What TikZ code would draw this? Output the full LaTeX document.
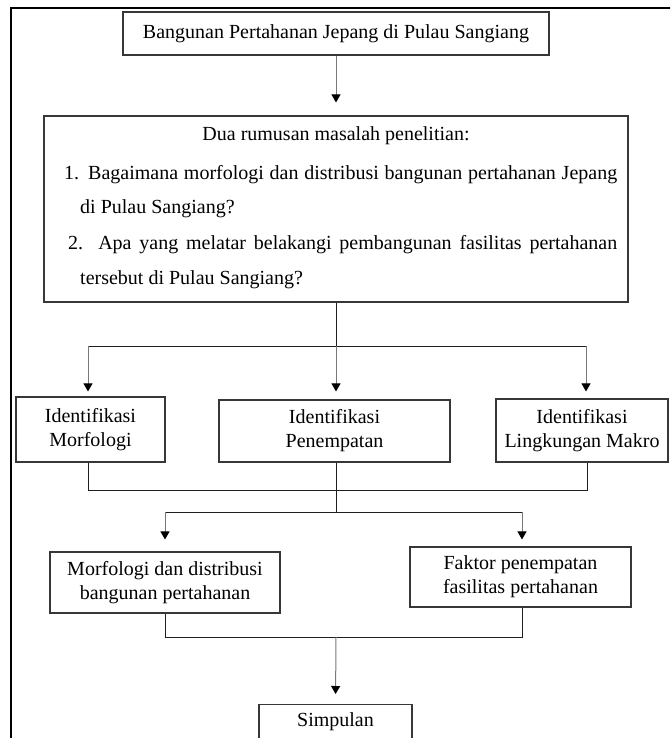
\documentclass[tikz,border=0pt]{standalone}
\usepackage{fontspec}
\setmainfont{Liberation Serif}
\usetikzlibrary{arrows.meta}
\definecolor{box_gray}{RGB}{55,55,55}
\definecolor{shaft_gray}{RGB}{120,120,120}
\definecolor{line_dark}{RGB}{30,30,30}

\begin{document}
\begin{tikzpicture}[x=1pt,y=-1pt,>={Triangle[length=8pt,width=9pt,black]}]
    \tikzstyle{box}=[draw=box_gray, line width=1.1pt, rectangle, inner sep=0pt, align=center, font=\fontsize{20}{24}\selectfont]
    \tikzstyle{txt}=[inner sep=0pt, font=\fontsize{20}{24}\selectfont]
    \tikzstyle{link}=[draw=line_dark, line width=1pt]
    \tikzstyle{arr}=[->, draw=shaft_gray, line width=1pt]

    \useasboundingbox (0,0) rectangle (670,738);
    \clip (0,0) rectangle (670,738);
    \draw[line width=2pt] (11,8) rectangle (720,800);

    \node[box, minimum width=426pt, minimum height=43pt] (top) at (336,33.5) {Bangunan Pertahanan Jepang di Pulau Sangiang};
    \node[box, minimum width=584pt, minimum height=186pt] (prob) at (336,209) {};
    \node[txt, anchor=base] (q0) at (336,141) {Dua rumusan masalah penelitian:};
    \node[txt, anchor=base west] (q1) at (64,179) {\makebox[553pt][s]{1. Bagaimana morfologi dan distribusi bangunan pertahanan Jepang}};
    \node[txt, anchor=base west] (q2) at (80,213) {di Pulau Sangiang?};
    \node[txt, anchor=base west] (q3) at (68,249) {\makebox[549pt][s]{2. Apa yang melatar belakangi pembangunan fasilitas pertahanan}};
    \node[txt, anchor=base west] (q4) at (80,284) {tersebut di Pulau Sangiang?};

    \node[box, minimum width=149pt, minimum height=65pt] (morf) at (90.5,429.5) {Identifikasi\\Morfologi};
    \node[box, minimum width=231pt, minimum height=62pt] (penem) at (334.5,431) {Identifikasi\\Penempatan};
    \node[box, minimum width=172pt, minimum height=63pt] (lingk) at (582,430.5) {Identifikasi\\Lingkungan Makro};
    \node[box, minimum width=230pt, minimum height=61pt] (distr) at (165,582.5) {Morfologi dan distribusi\\bangunan pertahanan};
    \node[box, minimum width=221pt, minimum height=60pt] (faktor) at (520.5,577) {Faktor penempatan\\fasilitas pertahanan};
    \node[box, anchor=north, minimum width=153pt, inner ysep=8pt] (simp) at (335.5,704) {Simpulan};

    % forks and joins
    \coordinate (fa) at (336,346);
    \coordinate (fa_l) at (88,346);
    \coordinate (fa_r) at (586,346);
    \coordinate (ja_l) at (88,490);
    \coordinate (ja_r) at (587,490);
    \coordinate (fb) at (336,512);
    \coordinate (fb_l) at (165,512);
    \coordinate (fb_r) at (522,512);
    \coordinate (jb_l) at (165,637);
    \coordinate (jb_r) at (522,637);
    \coordinate (jb) at (336,637);

    \draw[arr, shorten >=13pt] (top) -- (prob);
    \draw[link] (prob.south) -- (fa);
    \draw[link] (fa_l) -- (fa_r);
    \draw[arr, shorten >=5pt] (fa_l) -- (fa_l |- morf.north);
    \draw[arr, shorten >=8pt] (fa) -- (fa |- penem.north);
    \draw[arr, shorten >=7pt] (fa_r) -- (fa_r |- lingk.north);
    \draw[link] (morf.south -| ja_l) -- (ja_l) -- (ja_r) -- (lingk.south -| ja_r);
    \draw[link] (penem.south -| fb) -- (fb);
    \draw[link] (fb_l) -- (fb_r);
    \draw[arr, shorten >=12pt] (fb_l) -- (distr.north);
    \draw[arr, shorten >=7pt] (fb_r) -- (fb_r |- faktor.north);
    \draw[link] (distr.south) -- (jb_l) -- (jb_r) -- (faktor.south -| jb_r);
    \draw[arr, shorten >=10pt] (jb) -- (simp.north);
\end{tikzpicture}
\end{document}
